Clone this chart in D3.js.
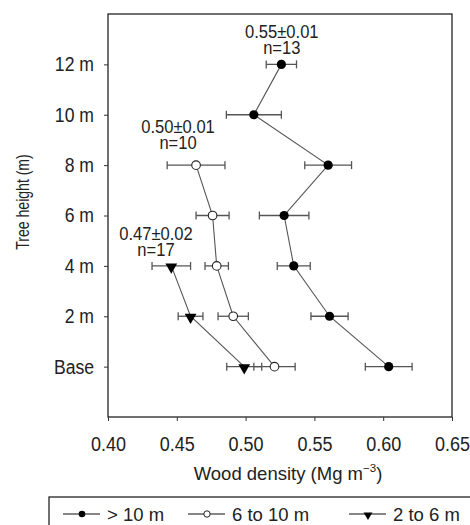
<!DOCTYPE html>
<html>
<head>
<meta charset="utf-8">
<script src="https://cdn.jsdelivr.net/npm/d3@7"></script>
<style>
  body { margin: 0; background: #fff; }
  svg text { font-family: "Liberation Sans", Arial, sans-serif; fill: #222; }
</style>
</head>
<body>
<div id="viz"></div>
<script>
// heights, bottom to top
var heights = ["Base", "2 m", "4 m", "6 m", "8 m", "10 m", "12 m"];

// tree class > 10 m
var bigMean = [0.604, 0.561, 0.535, 0.528, 0.560, 0.506, 0.526];
var bigErr  = [0.017, 0.0135, 0.012, 0.018, 0.017, 0.020, 0.011];
// 6 to 10 m
var midMean = [0.521, 0.491, 0.479, 0.476, 0.464];
var midErr  = [0.015, 0.011, 0.0085, 0.012, 0.021];
// 2 to 6 m
var smallMean = [0.499, 0.460, 0.446];
var smallErr  = [0.0127, 0.009, 0.014];

var xTicks = [0.40, 0.45, 0.50, 0.55, 0.60, 0.65];

var noteMean = ["0.55\u00b10.01", "0.50\u00b10.01", "0.47\u00b10.02"];
var noteN    = ["n=13", "n=10", "n=17"];
var noteAt   = [0.5263, 0.4509, 0.4349];
var noteH    = ["12 m", "8 m", "4 m"];

var legendLabels = ["> 10 m", "6 to 10 m", "2 to 6 m"];

var W = 470, H = 525;
var mLeft = 108, mRight = 452, mTop = 14, mBottom = 417;

var svg = d3.select("#viz")
	.append("svg")
	.attr("width", W)
	.attr("height", H);

// squeeze text a bit, the original uses a condensed face
function condense(sel, f) {
  sel.each(function() {
    var L = this.getComputedTextLength();
    d3.select(this).attr("textLength", L * f).attr("lengthAdjust", "spacingAndGlyphs");
  });
}

var x = d3.scaleLinear().domain([0.40, 0.65]).range([mLeft, mRight]);
var y = d3.scalePoint().domain(heights).range([mBottom, mTop]).padding(1);

function pts(means, errs) {
  return means.map(function(m, i) { return {h: heights[i], v: m, e: errs[i]}; });
}
var series = [
  {name: "big", data: pts(bigMean, bigErr)},
  {name: "mid", data: pts(midMean, midErr)},
  {name: "small", data: pts(smallMean, smallErr)}
];

// frame
svg.append("rect")
  .attr("x", mLeft).attr("y", mTop)
  .attr("width", mRight - mLeft).attr("height", mBottom - mTop)
  .style("fill", "none").style("stroke", "#111").style("stroke-width", 1.2);

// x axis
var xa = svg.append("g")
  .attr("transform", "translate(0," + mBottom + ")")
  .call(d3.axisBottom(x).tickValues(xTicks).tickFormat(d3.format(".2f")).tickSize(4).tickPadding(16));
xa.select(".domain").remove();
xa.selectAll("text").style("font-size", "20px").call(condense, 0.9);
xa.selectAll("line").style("stroke", "#333");

// y axis
var ya = svg.append("g")
  .attr("transform", "translate(" + mLeft + ",0)")
  .call(d3.axisLeft(y).tickSize(4).tickPadding(10));
ya.select(".domain").remove();
ya.selectAll("text").style("font-size", "20px").call(condense, 0.88);
ya.selectAll("line").style("stroke", "#333");

// axis titles
var xt = svg.append("text")
  .attr("x", 288).attr("y", 480)
  .attr("text-anchor", "middle")
  .style("font-size", "18.5px")
  .text("Wood density (Mg m");
xt.append("tspan").attr("dy", -8).style("font-size", "11.5px").text("\u22123");
xt.append("tspan").attr("dy", 8).text(")");

svg.append("text")
  .attr("transform", "translate(29,202) rotate(-90)")
  .attr("text-anchor", "middle")
  .style("font-size", "18px")
  .text("Tree height (m)")
  .call(condense, 0.78);

var line = d3.line()
  .x(function(d) { return x(d.v); })
  .y(function(d) { return y(d.h); });

series.forEach(function(s) {
  svg.append("path")
    .datum(s.data)
    .attr("d", line)
    .style("fill", "none")
    .style("stroke", "#555")
    .style("stroke-width", 1.1);
});

// error bars
series.forEach(function(s) {
  var g = svg.append("g").style("stroke", "#555").style("stroke-width", 1.3);
  g.selectAll("line.bar").data(s.data).enter().append("line")
    .attr("x1", function(d) { return x(d.v - d.e); })
    .attr("x2", function(d) { return x(d.v + d.e); })
    .attr("y1", function(d) { return y(d.h); })
    .attr("y2", function(d) { return y(d.h); });
  [-1, 1].forEach(function(sg) {
    g.selectAll("line.cap" + sg).data(s.data).enter().append("line")
      .attr("x1", function(d) { return x(d.v + sg * d.e); })
      .attr("x2", function(d) { return x(d.v + sg * d.e); })
      .attr("y1", function(d) { return y(d.h) - 4; })
      .attr("y2", function(d) { return y(d.h) + 4; });
  });
});

// markers
var tri = d3.symbol().type(d3.symbolTriangle).size(60);
svg.selectAll("circle.big").data(series[0].data).enter().append("circle")
  .attr("cx", function(d) { return x(d.v); })
  .attr("cy", function(d) { return y(d.h); })
  .attr("r", 4.6)
  .style("fill", "#000");
svg.selectAll("circle.mid").data(series[1].data).enter().append("circle")
  .attr("cx", function(d) { return x(d.v); })
  .attr("cy", function(d) { return y(d.h); })
  .attr("r", 4.3)
  .style("fill", "#fff").style("stroke", "#222").style("stroke-width", 1.1);
svg.selectAll("path.small").data(series[2].data).enter().append("path")
  .attr("d", tri)
  .attr("transform", function(d) { return "translate(" + x(d.v) + "," + (y(d.h) + 1) + ") rotate(180)"; })
  .style("fill", "#000");

// annotations (the 8 m one sits a little higher)
var lift = [0, 6, 0];
noteMean.forEach(function(t, i) {
  var cy = y(noteH[i]) - lift[i];
  svg.append("text").attr("x", x(noteAt[i])).attr("y", cy - 26)
    .attr("text-anchor", "middle").style("font-size", "18px").text(t).call(condense, 0.92);
  svg.append("text").attr("x", x(noteAt[i])).attr("y", cy - 10)
    .attr("text-anchor", "middle").style("font-size", "18px").text(noteN[i]).call(condense, 0.92);
});

// legend
svg.append("rect")
  .attr("x", 49).attr("y", 497).attr("width", 440).attr("height", 40)
  .style("fill", "none").style("stroke", "#111").style("stroke-width", 1.2);

var legX = [63, 188, 349];
legendLabels.forEach(function(lbl, i) {
  var gx = legX[i], gy = 514;
  svg.append("line").attr("x1", gx).attr("x2", gx + 37).attr("y1", gy).attr("y2", gy)
    .style("stroke", "#111").style("stroke-width", 1.2);
  if (i == 0) {
    svg.append("circle").attr("cx", gx + 19).attr("cy", gy).attr("r", 3.3).style("fill", "#000");
  } else if (i == 1) {
    svg.append("circle").attr("cx", gx + 19).attr("cy", gy).attr("r", 3.2)
      .style("fill", "#fff").style("stroke", "#222");
  } else {
    svg.append("path").attr("d", d3.symbol().type(d3.symbolTriangle).size(34))
      .attr("transform", "translate(" + (gx + 19) + "," + (gy + 1) + ") rotate(180)")
      .style("fill", "#000");
  }
  svg.append("text").attr("x", gx + 44).attr("y", gy + 6.5)
    .style("font-size", "18.5px").text(lbl);
});
</script>
</body>
</html>
